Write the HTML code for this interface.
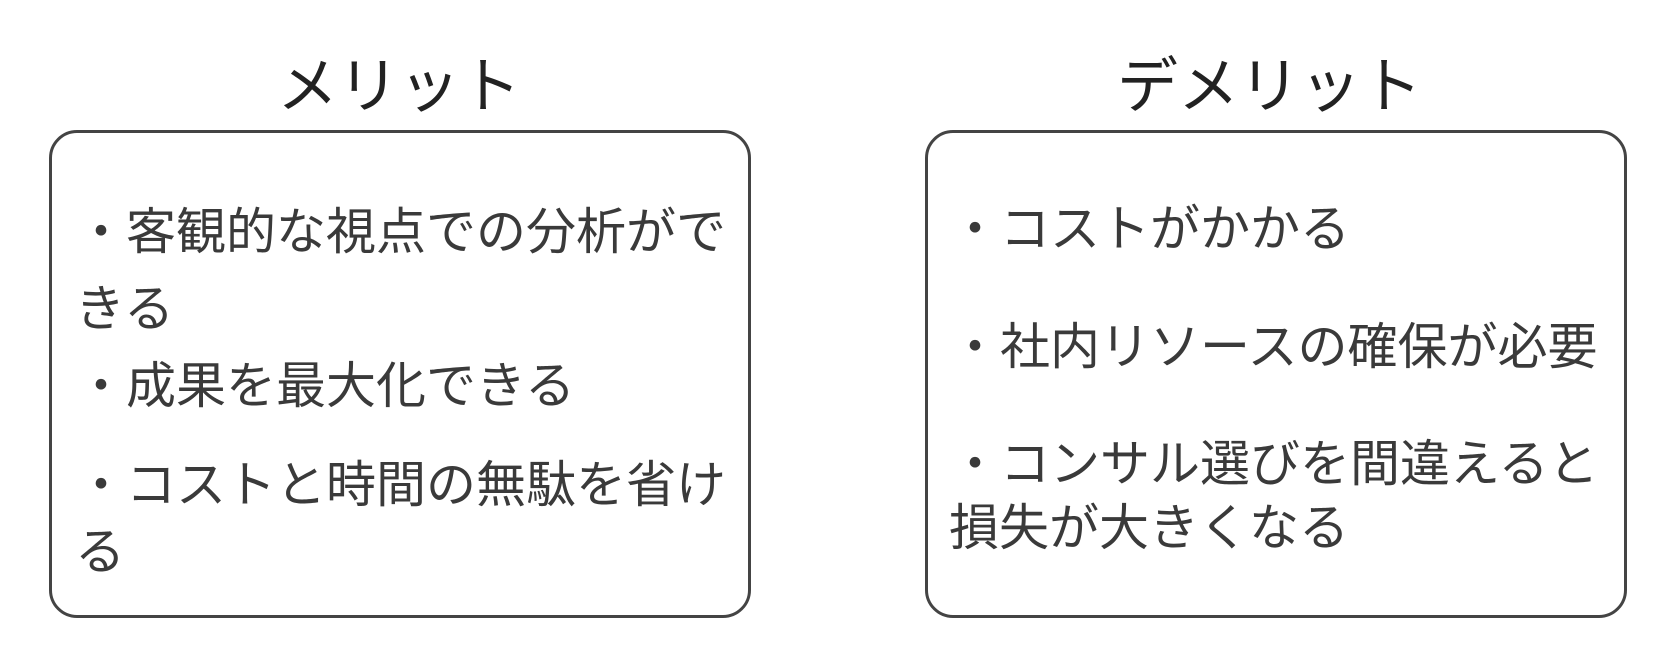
<!DOCTYPE html>
<html><head><meta charset="utf-8"><style>
html,body{margin:0;padding:0;background:#fff;}
body{width:1672px;height:672px;position:relative;overflow:hidden;font-family:"Liberation Sans","Noto Sans CJK JP",sans-serif;color:#3a3a3a;}
.box{position:absolute;top:130px;width:702px;height:488px;border:3.5px solid #444;border-radius:28px;box-sizing:border-box;}
.t{position:absolute;font-size:61px;line-height:61px;white-space:nowrap;color:#222;}
.l{position:absolute;font-size:50px;line-height:50px;white-space:nowrap;}
</style></head><body>
<div class="box" style="left:49px"></div>
<div class="box" style="left:925px"></div>
<div class="t" style="left:277px;top:56px">メリット</div>
<div class="t" style="left:1117px;top:56px">デメリット</div>
<div class="l" style="left:76px;top:207px">・客観的な視点での分析がで</div>
<div class="l" style="left:75px;top:284px">きる</div>
<div class="l" style="left:76px;top:361px">・成果を最大化できる</div>
<div class="l" style="left:76px;top:460px">・コストと時間の無駄を省け</div>
<div class="l" style="left:75px;top:527px">る</div>
<div class="l" style="left:950px;top:204px">・コストがかかる</div>
<div class="l" style="left:950px;top:322px">・社内リソースの確保が必要</div>
<div class="l" style="left:950px;top:439px">・コンサル選びを間違えると</div>
<div class="l" style="left:949px;top:503px">損失が大きくなる</div>
</body></html>
